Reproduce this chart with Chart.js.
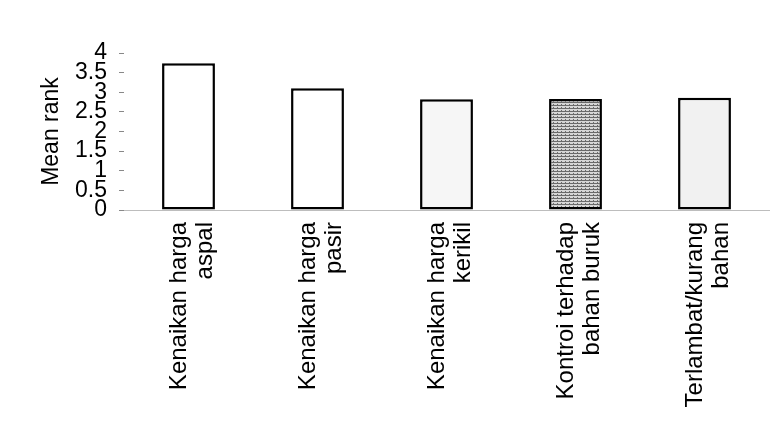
<!DOCTYPE html>
<html>
<head>
<meta charset="utf-8">
<script src="https://cdn.jsdelivr.net/npm/chart.js@4"></script>
<style>
  html, body { margin: 0; padding: 0; background: #fff; }
  #wrap { width: 777px; height: 426px; }
</style>
</head>
<body>
<div id="wrap"><canvas id="grafik"></canvas></div>
<script>
// data
const categories = [
  ['Kenaikan harga', 'aspal'],
  ['Kenaikan harga', 'pasir'],
  ['Kenaikan harga', 'kerikil'],
  ['Kontroi terhadap', 'bahan buruk'],
  ['Terlambat/kurang', 'bahan']
];
const meanRank = [3.74, 3.10, 2.82, 2.83, 2.86];
const yMin = 0, yMax = 4, yStep = 0.5;

// textured grey fill for the 4th bar (scan halftone)
function halftone() {
  const c = document.createElement('canvas');
  c.width = 4; c.height = 3;
  const g = c.getContext('2d');
  g.fillStyle = '#d6d6d6';
  g.fillRect(0, 0, 4, 3);
  g.fillStyle = '#6a6a6a';
  g.fillRect(0, 0, 4, 1);
  g.fillRect(1, 2, 1, 1);
  return g.createPattern(c, 'repeat');
}

const fills = ['#ffffff', '#ffffff', '#f6f6f6', halftone(), '#f1f1f1'];
const font = {family: "'Liberation Sans', Arial, sans-serif", size: 24};
const lineH = 26;

const ctx = document.getElementById('grafik').getContext('2d');
new Chart(ctx, {
  type: 'bar',
  data: {
    labels: categories,
    datasets: [{
      label: 'Mean rank',
      data: meanRank,
      backgroundColor: fills,
      borderColor: '#000',
      borderWidth: 2.5,
      borderSkipped: false,
      categoryPercentage: 1,
      barPercentage: 0.41
    }]
  },
  options: {
    responsive: true,
    maintainAspectRatio: false,
    animation: false,
    layout: {padding: {left: 34, right: 8, top: 53, bottom: 0}},
    plugins: {legend: {display: false}, tooltip: {enabled: false}},
    scales: {
      x: {
        grid: {display: false, drawTicks: false},
        border: {display: true, color: '#bdbdbd', width: 1, dash: [7, 6]},
        ticks: {
          color: '#000',
          font: {...font, lineHeight: lineH / font.size},
          minRotation: 90,
          maxRotation: 90,
          padding: 12,
          labelOffset: -lineH / 2 + 4,
          autoSkip: false
        },
        afterFit: s => { s.height = 216; }
      },
      y: {
        min: yMin,
        max: yMax,
        grid: {drawOnChartArea: false, tickLength: 5, color: '#888'},
        border: {display: false},
        ticks: {
          stepSize: yStep,
          autoSkip: false,
          color: '#000',
          padding: 12,
          font: {...font, size: 23, lineHeight: 1},
          callback: v => String(Number(v))
        },
        title: {
          display: true,
          text: 'Mean rank',
          color: '#000',
          font: {...font, size: 23, lineHeight: 1.2}
        },
        afterFit: s => { s.width = 90; }
      }
    }
  }
});
</script>
</body>
</html>
